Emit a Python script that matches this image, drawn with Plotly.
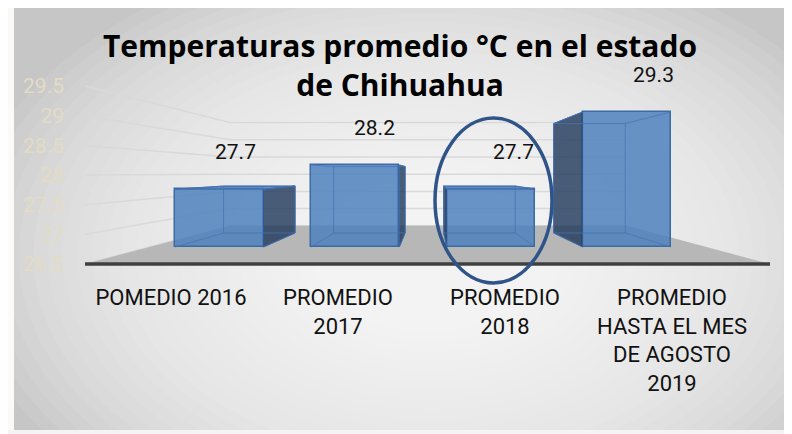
import plotly.graph_objects as go

# ---------------- data ----------------
categories = ["POMEDIO 2016", "PROMEDIO<br>2017", "PROMEDIO<br>2018",
              "PROMEDIO<br>HASTA EL MES<br>DE AGOSTO<br>2019"]
values = [27.7, 28.2, 27.7, 29.3]
value_labels = ["27.7", "28.2", "27.7", "29.3"]
y_ticks = [26.5, 27, 27.5, 28, 28.5, 29, 29.5]
y_tick_labels = ["26.5", "27", "27.5", "28", "28.5", "29", "29.5"]
title_text = "Temperaturas promedio °C en el estado<br>de Chihuahua"
highlight_index = 2

# ---------------- geometry / style ----------------
W, H = 792, 434
OFF = 8                        # page margin around the figure (screen px = figure px + OFF)
ML, MR, MT, MB = 72, 2, 2, 0
X0_PX, X_STEP = 171, 167      # front plane (screen px): category 0 position, px per category
Y0_PX, Y_STEP = 264, 59.3     # front plane (screen px): axis minimum, px per degree
Y_MIN = y_ticks[0]


def u_of_px(px):
    return (px - X0_PX) / X_STEP


def v_of_px(py):
    return Y_MIN + (Y0_PX - py) / Y_STEP


def paper_x(px):
    return (px - OFF - ML) / (W - ML - MR)


def paper_y(py):
    return (H - MB - (py - OFF)) / (H - MT - MB)


XC, YC = u_of_px(430), v_of_px(173)          # vanishing point
S_FRONT, S_BACK, S_WALL = 0.813, 0.659, 0.58  # depth scales
BAR_W = 0.65


def P(u, v, s):
    return XC + s * (u - XC), YC + s * (v - YC)


def path(points):
    return "M " + " L ".join(f"{x:.5f},{y:.5f}" for x, y in points) + " Z"


def open_path(points):
    return "M " + " L ".join(f"{x:.5f},{y:.5f}" for x, y in points)


shapes = []

# background (radial-ish gradient)
shapes.append(dict(type="rect", xref="paper", yref="paper", layer="below",
                   x0=paper_x(14), x1=paper_x(800), y0=paper_y(430), y1=paper_y(7),
                   fillcolor="#c6c6c6", line=dict(width=0)))
N_RINGS = 32
for k in range(N_RINGS, 0, -1):
    rx = 470 * k / N_RINGS
    ry = rx * 0.66
    cx, cy = 430, 255
    shapes.append(dict(type="circle", xref="paper", yref="paper", layer="below",
                       x0=paper_x(cx - rx), x1=paper_x(cx + rx),
                       y0=paper_y(cy + ry), y1=paper_y(cy - ry),
                       fillcolor="rgba(255,255,255,0.075)", line=dict(width=0)))
# cover the overflow of the rings outside the chart area
shapes.append(dict(type="rect", xref="paper", yref="paper", layer="below",
                   x0=paper_x(0), x1=paper_x(14), y0=paper_y(H + OFF), y1=paper_y(0),
                   fillcolor="#fbfaf6", line=dict(width=0)))
shapes.append(dict(type="rect", xref="paper", yref="paper", layer="below",
                   x0=paper_x(0), x1=paper_x(W + OFF), y0=paper_y(7), y1=paper_y(0),
                   fillcolor="#fbfaf6", line=dict(width=0)))
shapes.append(dict(type="rect", xref="paper", yref="paper", layer="below",
                   x0=paper_x(0), x1=paper_x(W + OFF), y0=paper_y(H + OFF), y1=paper_y(430),
                   fillcolor="#f4f4f4", line=dict(width=0)))

uL, uR = u_of_px(85), u_of_px(770)

# perspective gridlines (side wall + back wall)
for t in y_ticks:
    shapes.append(dict(type="path", xref="x", yref="y", layer="below",
                       path=open_path([P(uL, t, 1), P(uL, t, S_WALL), P(uR, t, S_WALL)]),
                       line=dict(color="#d9d9d9", width=1.5)))

# floor
shapes.append(dict(type="path", xref="x", yref="y", layer="below",
                   path=path([P(uL, Y_MIN, 1), P(uR, Y_MIN, 1),
                              P(uR, Y_MIN, S_WALL), P(uL, Y_MIN, S_WALL)]),
                   fillcolor="#b7b7b7", line=dict(width=0)))
shapes.append(dict(type="line", xref="x", yref="y", layer="below",
                   x0=P(uL, Y_MIN, 1)[0], y0=Y_MIN, x1=P(uR, Y_MIN, 1)[0], y1=Y_MIN,
                   line=dict(color="#3f3f3f", width=3.5)))

# bar 3D faces
bar_x, bar_base, bar_h = [], [], []
annotations = []
for i, v in enumerate(values):
    l, r = i - BAR_W / 2, i + BAR_W / 2
    fx = P(i, v, S_FRONT)[0]
    bar_x.append(fx)
    bar_base.append(P(i, Y_MIN, S_FRONT)[1])
    bar_h.append(S_FRONT * (v - Y_MIN))
    edge = r if fx < XC else l
    shapes.append(dict(type="path", xref="x", yref="y", layer="above",
                       path=path([P(edge, Y_MIN, S_FRONT), P(edge, v, S_FRONT),
                                  P(edge, v, S_BACK), P(edge, Y_MIN, S_BACK)]),
                       fillcolor="rgba(30,55,90,0.80)",
                       line=dict(color="rgba(50,90,150,0.9)", width=1)))
    if v < YC:
        shapes.append(dict(type="path", xref="x", yref="y", layer="above",
                           path=path([P(l, v, S_FRONT), P(r, v, S_FRONT),
                                      P(r, v, S_BACK), P(l, v, S_BACK)]),
                           fillcolor="rgba(79,129,189,0.85)",
                           line=dict(color="rgba(60,100,160,0.9)", width=1)))
    # see-through inner edges
    shapes.append(dict(type="path", xref="x", yref="y", layer="above",
                       path=path([P(l, Y_MIN, S_BACK), P(r, Y_MIN, S_BACK),
                                  P(r, v, S_BACK), P(l, v, S_BACK)]),
                       line=dict(color="rgba(70,115,180,0.75)", width=1)))
    for cu, cv in [(l, Y_MIN), (r, Y_MIN), (l, v), (r, v)]:
        a, b = P(cu, cv, S_FRONT), P(cu, cv, S_BACK)
        shapes.append(dict(type="line", xref="x", yref="y", layer="above",
                           x0=a[0], y0=a[1], x1=b[0], y1=b[1],
                           line=dict(color="rgba(70,115,180,0.75)", width=1)))
    top = P(i, v, S_FRONT)
    annotations.append(dict(x=top[0], y=top[1], xref="x", yref="y", text=value_labels[i],
                            showarrow=False, xshift=16 + 3.5 * i, yshift=37, yanchor="middle",
                            font=dict(family="Roboto", size=21, color="#111111")))

# highlight ellipse around 2018
shapes.append(dict(type="circle", xref="x", yref="y", layer="above",
                   x0=u_of_px(435), x1=u_of_px(552), y0=v_of_px(283), y1=v_of_px(118),
                   line=dict(color="#2f5487", width=3.5)))

fig = go.Figure()
fig.add_trace(go.Bar(
    x=bar_x, y=bar_h, base=bar_base, width=S_FRONT * BAR_W,
    marker=dict(color="rgba(79,129,189,0.85)", line=dict(color="#3c6aa5", width=1.5)),
    hoverinfo="skip", showlegend=False))

fig.update_layout(
    width=W, height=H,
    margin=dict(l=ML, r=MR, t=MT, b=MB, autoexpand=False),
    paper_bgcolor="#fbfaf6", plot_bgcolor="rgba(0,0,0,0)",
    title=dict(text=title_text, x=(400 - OFF) / W, xanchor="center", xref="container",
               y=1 - 49 / H, yanchor="top", yref="container", automargin=False,
               font=dict(family="Open Sans", size=30, weight=700, color="#000000")),
    xaxis=dict(range=[u_of_px(ML + OFF), u_of_px(W - MR + OFF)], tickmode="array",
               tickvals=list(range(len(categories))), ticktext=categories,
               anchor="free", position=paper_y(Y0_PX), showgrid=False, zeroline=False,
               showline=False, ticks="", ticklabelstandoff=18, automargin=False,
               tickfont=dict(family="Roboto", size=22, color="#111111")),
    yaxis=dict(range=[v_of_px(H - MB + OFF), v_of_px(MT + OFF)], tickmode="array",
               tickvals=y_ticks, ticktext=y_tick_labels, showgrid=False, zeroline=False,
               showline=False, ticks="", ticklabelstandoff=15, automargin=False,
               tickfont=dict(family="Roboto", size=21, color="#e3dcc3")),
    shapes=shapes, annotations=annotations,
    bargap=0,
)

fig.write_html("out.html")
